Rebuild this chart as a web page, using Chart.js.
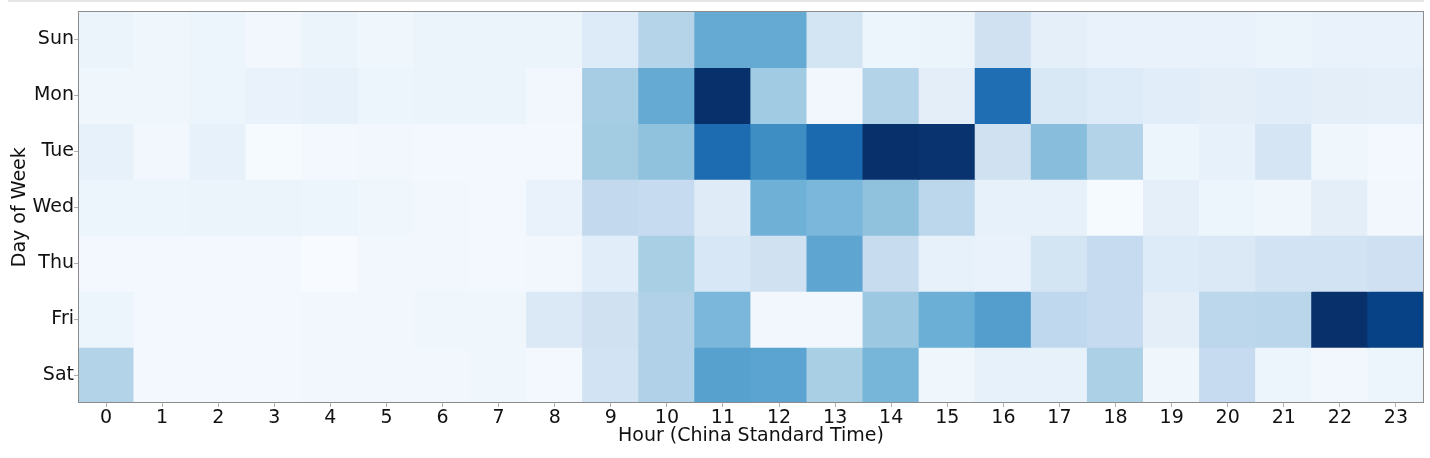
<!DOCTYPE html>
<html>
<head>
<meta charset="utf-8">
<script src="https://cdn.jsdelivr.net/npm/chart.js@4/dist/chart.umd.min.js"></script>
<style>
  html, body { margin: 0; padding: 0; background: #ffffff; }
  #wrap { position: relative; width: 1430px; height: 458px; }
  #topline { position: absolute; left: 8px; top: 0px; width: 1416px; height: 2px; background: #e6e6e6; }
  canvas { position: absolute; left: 0; top: 0; }
</style>
</head>
<body>
<div id="wrap">
  <div id="topline"></div>
  <canvas id="c" width="1430" height="458"></canvas>
</div>
<script>
// ---- data (relative activity, 0..100) ----
const hours = ["0","1","2","3","4","5","6","7","8","9","10","11","12","13","14","15","16","17","18","19","20","21","22","23"];
const days  = ["Sun","Mon","Tue","Wed","Thu","Fri","Sat"];

const sun = [6, 4, 5, 3, 6, 4, 6, 6, 6, 13, 30, 52, 52, 18, 5, 6, 20, 9, 7, 7, 7, 6, 7, 7];
const mon = [4, 4, 5, 7, 8, 5, 6, 6, 3, 35, 52, 100, 37, 3, 31, 10, 76, 15, 13, 11, 10, 11, 10, 9];
const tue = [8, 3, 8, 1, 2, 3, 2, 2, 2, 36, 41, 77, 64, 78, 100, 99, 20, 43, 31, 5, 8, 17, 4, 2];
const wed = [5, 5, 6, 6, 5, 4, 3, 2, 7, 26, 25, 12, 49, 46, 41, 28, 8, 8, 1, 9, 5, 4, 10, 3];
const thu = [2, 2, 2, 2, 0, 3, 3, 2, 3, 11, 34, 16, 20, 54, 24, 8, 7, 18, 25, 13, 14, 19, 19, 21];
const fri = [5, 2, 2, 2, 3, 3, 4, 4, 14, 20, 32, 46, 3, 3, 38, 50, 57, 27, 25, 10, 28, 29, 100, 93];
const sat = [31, 2, 2, 2, 3, 3, 3, 4, 2, 19, 32, 56, 55, 34, 47, 4, 8, 8, 33, 4, 25, 5, 3, 5];

const rows = [sun, mon, tue, wed, thu, fri, sat];

// matplotlib "Blues" colormap stops
const bluesStops = [
  [247,251,255],[222,235,247],[198,219,239],[158,202,225],[107,174,214],
  [66,146,198],[33,113,181],[8,81,156],[8,48,107]
];
function blues(t) {
  t = Math.max(0, Math.min(1, t));
  const s = t * (bluesStops.length - 1);
  const i = Math.min(Math.floor(s), bluesStops.length - 2);
  const f = s - i;
  const a = bluesStops[i], b = bluesStops[i + 1];
  const c = a.map((v, k) => Math.round(v + (b[k] - v) * f));
  return `rgb(${c[0]},${c[1]},${c[2]})`;
}
const vmin = Math.min(...rows.flat());
const vmax = Math.max(...rows.flat());

const datasets = rows.map((vals, d) => ({
  label: days[d],
  data: vals.map(() => [d - 0.5, d + 0.5]),
  backgroundColor: vals.map(v => blues((v - vmin) / (vmax - vmin))),
  borderWidth: 0,
  barPercentage: 1.0,
  categoryPercentage: 1.0,
  grouped: false,
  inflateAmount: 0.6
}));

const font = { family: "'DejaVu Sans', sans-serif", size: 19 };

const framePlugin = {
  id: 'frame',
  afterDraw(chart) {
    const { ctx, chartArea: a } = chart;
    ctx.save();
    ctx.strokeStyle = '#8c8c8c';
    ctx.lineWidth = 1;
    ctx.strokeRect(Math.round(a.left) + 0.5, Math.round(a.top) + 0.5,
                   Math.round(a.right - a.left) - 1, Math.round(a.bottom - a.top) - 1);
    ctx.restore();
  }
};

new Chart(document.getElementById('c'), {
  type: 'bar',
  data: { labels: hours, datasets },
  plugins: [framePlugin],
  options: {
    responsive: false,
    animation: false,
    devicePixelRatio: 1,
    layout: { padding: { top: 11, right: 6, left: 0, bottom: 0 } },
    plugins: { legend: { display: false }, tooltip: { enabled: false } },
    scales: {
      x: {
        type: 'category',
        offset: true,
        grid: { display: true, drawOnChartArea: false, offset: false, color: '#b0b0b0', tickLength: 4, tickWidth: 1 },
        border: { display: false },
        ticks: { color: '#111111', font, padding: 0, maxRotation: 0, autoSkip: false },
        title: { display: true, text: 'Hour (China Standard Time)', color: '#111111', font, padding: { top: 0, bottom: 10.5 } },
        afterFit(scale) { scale.height = 55; }
      },
      y: {
        type: 'linear',
        reverse: true,
        min: -0.5,
        max: 6.5,
        afterBuildTicks(scale) { scale.ticks = days.map((_, i) => ({ value: i })); },
        grid: { display: true, drawOnChartArea: false, color: '#b0b0b0', tickLength: 4, tickWidth: 1 },
        border: { display: false },
        ticks: { color: '#111111', font, padding: 0, callback: (v) => days[v] },
        title: { display: true, text: 'Day of Week', color: '#111111', font, padding: { top: 9, bottom: 0 } },
        afterFit(scale) { scale.width = 78; }
      }
    }
  }
});
</script>
</body>
</html>
